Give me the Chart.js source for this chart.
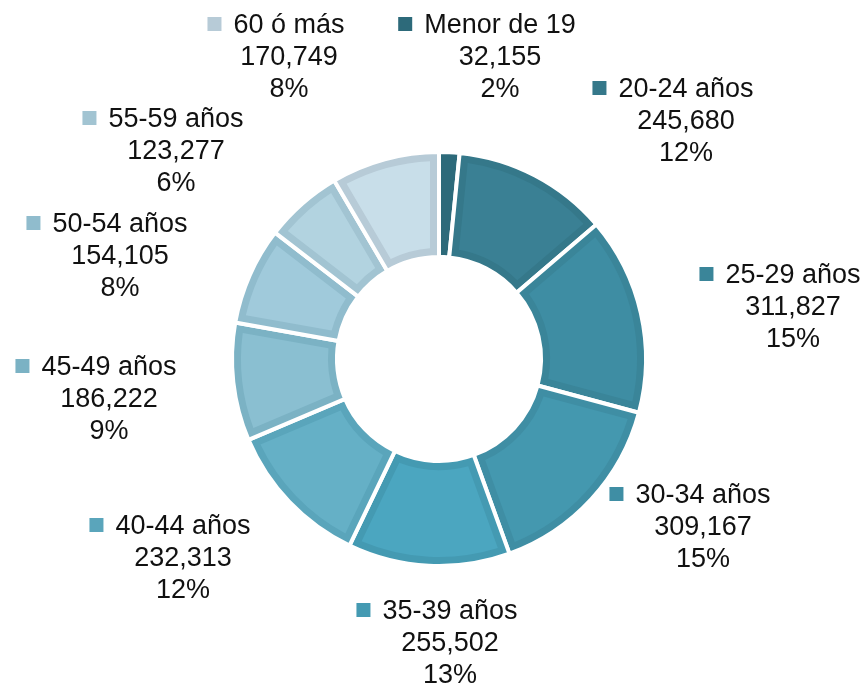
<!DOCTYPE html>
<html>
<head>
<meta charset="utf-8">
<script src="https://cdn.jsdelivr.net/npm/chart.js@4/dist/chart.umd.min.js"></script>
<style>
  body { margin: 0; background: #fff; }
  canvas { display: block; }
</style>
</head>
<body>
<canvas id="donut" width="867" height="686"></canvas>
<script>
// data
var labels = ['Menor de 19', '20-24 años', '25-29 años', '30-34 años', '35-39 años',
              '40-44 años', '45-49 años', '50-54 años', '55-59 años', '60 ó más'];
var values = [32155, 245680, 311827, 309167, 255502, 232313, 186222, 154105, 123277, 170749];
var percents = [2, 12, 15, 15, 13, 12, 9, 8, 6, 8];

// styles
var fillColors = ['#2E6C7C', '#3A8094', '#3E8DA3', '#4498AF', '#4BA6C0',
                  '#65B0C6', '#8ABFD1', '#A0CADB', '#B2D3E0', '#C8DEE9'];
var edgeColors = ['#2D6A7A', '#35788A', '#3A8599', '#3F8EA4', '#449AB2',
                  '#5AA5BB', '#7BB2C4', '#90BCCD', '#A2C4D2', '#B7CBD7'];
// where each label block sits, relative to the centre of the ring (first line baseline)
var labelOffsets = [[61, -326], [247, -262], [354, -76], [264, 144], [11, 260],
                    [-256, 175], [-330, 16], [-319, -127], [-263, -232], [-150, -326]];

var gap = 2;    // half of the white line between slices
var rim = 7;    // darker rim inside each slice

// lighter inner panel of every slice, taken from the arc geometry
var slicePanels = {
  id: 'slicePanels',
  afterDatasetsDraw: function(chart){
    var ctx = chart.ctx;
    var arcs = chart.getDatasetMeta(0).data;
    var d = gap + rim;
    ctx.save();
    for (var i = 0; i < arcs.length; i++) {
      var a = arcs[i];
      var ro = a.outerRadius - d, ri = a.innerRadius + d;
      var so = a.startAngle + Math.asin(d / ro), eo = a.endAngle - Math.asin(d / ro);
      var si = a.startAngle + Math.asin(d / ri), ei = a.endAngle - Math.asin(d / ri);
      if (ei <= si || eo <= so) continue;
      ctx.beginPath();
      ctx.arc(a.x, a.y, ro, so, eo);
      ctx.arc(a.x, a.y, ri, ei, si, true);
      ctx.closePath();
      ctx.fillStyle = fillColors[i];
      ctx.fill();
    }
    ctx.restore();
  }
};

var outsideLabels = {
  id: 'outsideLabels',
  afterDraw: function(chart){
    var ctx = chart.ctx;
    var arcs = chart.getDatasetMeta(0).data;
    ctx.save();
    ctx.font = '27px "Liberation Sans", Arial, sans-serif';
    ctx.textBaseline = 'alphabetic';
    ctx.textAlign = 'center';
    for (var i = 0; i < arcs.length; i++) {
      var cx = arcs[i].x + labelOffsets[i][0];
      var by = arcs[i].y + labelOffsets[i][1];
      var lines = [labels[i], values[i].toLocaleString('en-US'), percents[i] + '%'];
      ctx.fillStyle = '#111';
      for (var j = 0; j < lines.length; j++) {
        ctx.fillText(lines[j], cx, by + j * 32);
      }
      var w = ctx.measureText(labels[i]).width;
      ctx.fillStyle = edgeColors[i];
      ctx.fillRect(cx - w / 2 - 26, by - 16, 14, 14);
    }
    ctx.restore();
  }
};

new Chart(document.getElementById('donut'), {
  type: 'doughnut',
  data: {
    labels: labels,
    datasets: [{
      data: values,
      backgroundColor: edgeColors,
      borderColor: '#ffffff',
      borderWidth: gap * 2
    }]
  },
  options: {
    responsive: false,
    animation: false,
    cutout: '49.3%',
    layout: { padding: { left: 230, right: 219, top: 150, bottom: 118 } },
    plugins: {
      legend: { display: false },
      tooltip: { enabled: false }
    }
  },
  plugins: [slicePanels, outsideLabels]
});
</script>
</body>
</html>
